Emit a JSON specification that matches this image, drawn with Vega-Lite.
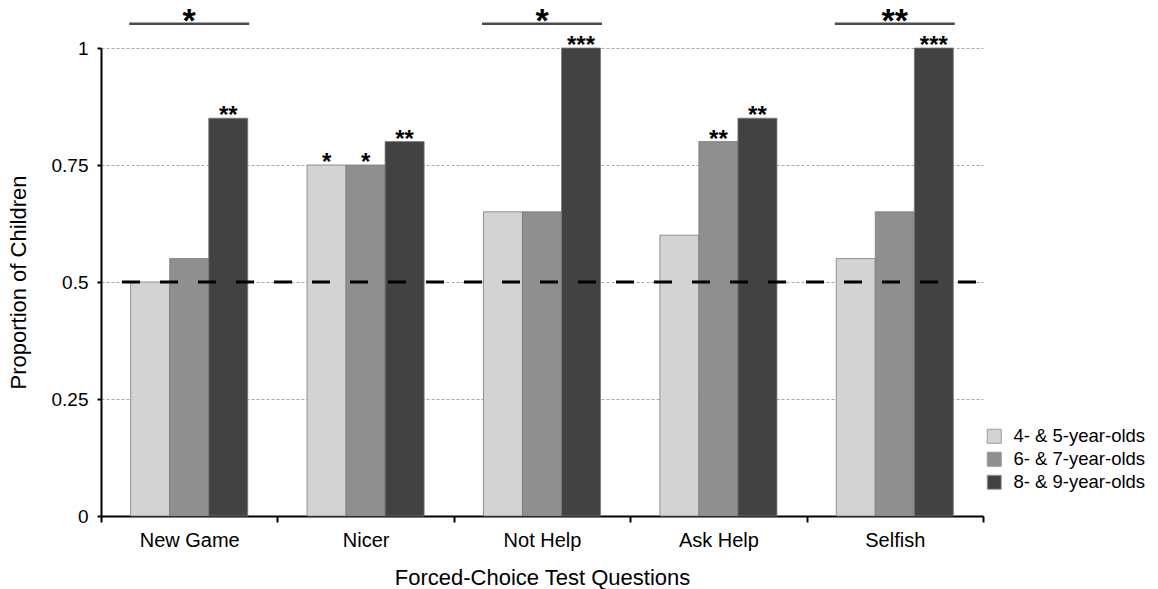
{
  "$schema": "https://vega.github.io/schema/vega-lite/v6.json",
  "autosize": {"type": "none"},
  "width": 882,
  "height": 468,
  "padding": {"left": 101, "top": 48, "right": 175, "bottom": 73},
  "background": "white",
  "config": {
    "font": "Liberation Sans",
    "view": {"stroke": null}
  },
  "datasets": {
    "answers": [
      {"question": "New Game", "age": "4- & 5-year-olds", "proportion": 0.5, "sig": ""},
      {"question": "New Game", "age": "6- & 7-year-olds", "proportion": 0.55, "sig": ""},
      {"question": "New Game", "age": "8- & 9-year-olds", "proportion": 0.85, "sig": "**"},
      {"question": "Nicer", "age": "4- & 5-year-olds", "proportion": 0.75, "sig": "*"},
      {"question": "Nicer", "age": "6- & 7-year-olds", "proportion": 0.75, "sig": "*"},
      {"question": "Nicer", "age": "8- & 9-year-olds", "proportion": 0.8, "sig": "**"},
      {"question": "Not Help", "age": "4- & 5-year-olds", "proportion": 0.65, "sig": ""},
      {"question": "Not Help", "age": "6- & 7-year-olds", "proportion": 0.65, "sig": ""},
      {"question": "Not Help", "age": "8- & 9-year-olds", "proportion": 1.0, "sig": "***"},
      {"question": "Ask Help", "age": "4- & 5-year-olds", "proportion": 0.6, "sig": ""},
      {"question": "Ask Help", "age": "6- & 7-year-olds", "proportion": 0.8, "sig": "**"},
      {"question": "Ask Help", "age": "8- & 9-year-olds", "proportion": 0.85, "sig": "**"},
      {"question": "Selfish", "age": "4- & 5-year-olds", "proportion": 0.55, "sig": ""},
      {"question": "Selfish", "age": "6- & 7-year-olds", "proportion": 0.65, "sig": ""},
      {"question": "Selfish", "age": "8- & 9-year-olds", "proportion": 1.0, "sig": "***"}
    ],
    "ageEffects": [
      {"question": "New Game", "sig": "*"},
      {"question": "Not Help", "sig": "*"},
      {"question": "Selfish", "sig": "**"}
    ],
    "chance": [
      {"level": 0.5}
    ]
  },
  "layer": [
    {
      "data": {"name": "answers"},
      "mark": {"type": "bar", "stroke": "#7a7a7a", "strokeWidth": 0.8},
      "encoding": {
        "x": {
          "field": "question",
          "type": "nominal",
          "sort": ["New Game", "Nicer", "Not Help", "Ask Help", "Selfish"],
          "scale": {"paddingInner": 0, "paddingOuter": 0},
          "axis": {
            "title": "Forced-Choice Test Questions",
            "titleFontSize": 22,
            "titleFontWeight": "normal",
            "titleColor": "black",
            "titlePadding": 17,
            "labelAngle": 0,
            "labelFontSize": 20,
            "labelColor": "black",
            "labelPadding": 8,
            "tickBand": "extent",
            "tickSize": 6,
            "tickWidth": 2,
            "tickColor": "black",
            "domainColor": "black",
            "domainWidth": 2,
            "grid": false
          }
        },
        "xOffset": {
          "field": "age",
          "type": "nominal",
          "scale": {"paddingInner": 0, "paddingOuter": 0.76}
        },
        "y": {
          "field": "proportion",
          "type": "quantitative",
          "scale": {"domain": [0, 1], "nice": false},
          "axis": {
            "title": "Proportion of Children",
            "titleFontSize": 22,
            "titleFontWeight": "normal",
            "titleColor": "black",
            "titlePadding": 21,
            "values": [0, 0.25, 0.5, 0.75, 1],
            "labelExpr": "datum.value === 0 ? '0' : format(datum.value, '.3~f')",
            "labelFontSize": 19,
            "labelColor": "black",
            "labelPadding": 9,
            "tickSize": 4,
            "tickWidth": 2,
            "tickColor": "black",
            "domainColor": "black",
            "domainWidth": 2,
            "grid": true,
            "gridColor": "#a8a8a8",
            "gridDash": [3, 2],
            "gridWidth": 1
          }
        },
        "fill": {
          "field": "age",
          "type": "nominal",
          "scale": {
            "domain": ["4- & 5-year-olds", "6- & 7-year-olds", "8- & 9-year-olds"],
            "range": ["#d3d3d3", "#8f8f8f", "#424242"]
          },
          "legend": {
            "title": null,
            "orient": "none",
            "legendX": 884,
            "legendY": 379,
            "symbolType": "square",
            "symbolSize": 196,
            "symbolStrokeColor": "#9a9a9a",
            "symbolStrokeWidth": 1,
            "labelFontSize": 18.5,
            "labelColor": "black",
            "labelOffset": 10,
            "rowPadding": 4
          }
        }
      }
    },
    {
      "data": {"name": "answers"},
      "transform": [{"filter": "datum.sig !== ''"}],
      "mark": {"type": "text", "fontSize": 24, "fontWeight": "bold", "baseline": "alphabetic", "dy": 5, "color": "black"},
      "encoding": {
        "x": {"field": "question", "type": "nominal", "sort": ["New Game", "Nicer", "Not Help", "Ask Help", "Selfish"]},
        "xOffset": {"field": "age", "type": "nominal"},
        "y": {"field": "proportion", "type": "quantitative"},
        "text": {"field": "sig"}
      }
    },
    {
      "data": {"name": "chance"},
      "mark": {"type": "rule", "color": "black", "strokeWidth": 3, "strokeDash": [18, 20], "strokeDashOffset": 31},
      "encoding": {"y": {"field": "level", "type": "quantitative"}}
    },
    {
      "data": {"name": "ageEffects"},
      "mark": {"type": "tick", "orient": "horizontal", "size": 120, "thickness": 2.5, "color": "black"},
      "encoding": {
        "x": {"field": "question", "type": "nominal", "sort": ["New Game", "Nicer", "Not Help", "Ask Help", "Selfish"]},
        "y": {"datum": 1.052}
      }
    },
    {
      "data": {"name": "ageEffects"},
      "mark": {"type": "text", "fontSize": 34, "fontWeight": "bold", "baseline": "alphabetic", "dy": 8, "color": "black"},
      "encoding": {
        "x": {"field": "question", "type": "nominal", "sort": ["New Game", "Nicer", "Not Help", "Ask Help", "Selfish"]},
        "y": {"datum": 1.052},
        "text": {"field": "sig"}
      }
    }
  ]
}
